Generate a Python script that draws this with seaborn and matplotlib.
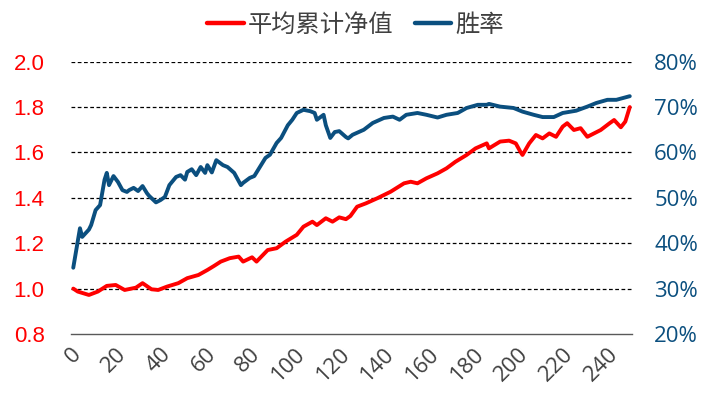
import numpy as np
import pandas as pd
import matplotlib
matplotlib.use("Agg")
import matplotlib.pyplot as plt
import seaborn as sns

# 平均累计净值 (left axis)
nav_x = [1, 3, 8, 12, 16, 20, 24, 29, 32, 36, 39, 43, 48, 52, 57, 61, 64, 67, 71, 75,
         77, 81, 83, 88, 92, 96, 101, 104, 108, 110, 114, 117, 120, 123, 125, 128, 132,
         137, 143, 149, 152, 155, 159, 164, 168, 172, 177, 181, 186, 187, 192, 196, 199,
         201, 202, 205, 208, 211, 214, 217, 220, 222, 225, 228, 231, 234, 237, 241, 243,
         246, 248, 250]
nav_y = [1.000, 0.987, 0.972, 0.987, 1.012, 1.016, 0.994, 1.004, 1.024, 0.997, 0.994,
         1.009, 1.024, 1.046, 1.060, 1.082, 1.100, 1.119, 1.134, 1.141, 1.119, 1.138,
         1.119, 1.170, 1.178, 1.207, 1.237, 1.273, 1.295, 1.280, 1.310, 1.295, 1.314,
         1.306, 1.320, 1.361, 1.376, 1.398, 1.427, 1.464, 1.471, 1.464, 1.486, 1.508,
         1.530, 1.559, 1.589, 1.618, 1.640, 1.618, 1.648, 1.652, 1.640, 1.604, 1.589,
         1.640, 1.677, 1.662, 1.684, 1.669, 1.714, 1.729, 1.699, 1.707, 1.669, 1.684,
         1.699, 1.729, 1.743, 1.711, 1.736, 1.800]

# 胜率 in % (right axis)
win_x = [1, 4, 5, 8, 9, 11, 13, 15, 16, 17, 19, 21, 23, 25, 26, 28, 30, 32, 34, 35, 38,
         40, 42, 44, 47, 49, 51, 52, 54, 56, 58, 60, 61, 63, 65, 68, 70, 73, 76, 77, 80,
         82, 85, 87, 89, 92, 94, 97, 99, 101, 104, 107, 109, 110, 113, 114, 116, 118,
         120, 123, 124, 126, 131, 135, 140, 144, 147, 150, 155, 159, 164, 168, 173, 177,
         182, 186, 187, 192, 198, 202, 207, 211, 216, 220, 226, 231, 235, 240, 244, 247,
         250]
win_y = [34.6, 43.3, 41.4, 43.0, 44.0, 47.3, 48.4, 54.0, 55.5, 52.8, 54.8, 53.5, 51.7,
         51.3, 51.7, 52.2, 51.5, 52.6, 51.0, 50.4, 49.0, 49.5, 50.2, 52.8, 54.6, 55.0,
         54.0, 55.7, 56.3, 55.0, 56.8, 55.5, 57.2, 55.6, 58.3, 57.2, 56.8, 55.5, 52.8,
         53.3, 54.4, 54.8, 57.2, 58.8, 59.5, 62.1, 63.2, 66.0, 67.2, 68.7, 69.4, 69.1,
         68.7, 67.2, 68.3, 66.0, 63.2, 64.5, 64.7, 63.4, 63.1, 63.9, 65.0, 66.5, 67.6,
         67.9, 67.2, 68.3, 68.7, 68.3, 67.7, 68.3, 68.7, 69.8, 70.5, 70.5, 70.7, 70.1,
         69.8, 69.0, 68.3, 67.8, 67.8, 68.7, 69.2, 70.1, 70.9, 71.6, 71.6, 72.0, 72.4]

nav = pd.DataFrame({"x": nav_x, "y": nav_y})
win = pd.DataFrame({"x": win_x, "y": win_y})

red = "#ff0000"
blue = "#0b4f7f"

sns.set_style("white")
plt.rcParams["font.family"] = ["Liberation Sans", "DejaVu Sans"]

fig = plt.figure(figsize=(7.11, 3.96), dpi=100)
ax = fig.add_axes([0.0999, 0.1566, 0.7890, 0.6876])
ax2 = ax.twinx()

sns.lineplot(data=nav, x="x", y="y", ax=ax, color=red, lw=2.8, label="平均累计净值", legend=False)
sns.lineplot(data=win, x="x", y="y", ax=ax2, color=blue, lw=2.8, label="胜率", legend=False)

ax.set_xlim(0, 251)
ax.set_ylim(0.8, 2.0)
ax2.set_ylim(20, 80)
ax.set_xticks(np.arange(0, 241, 20))
ax.set_yticks(np.arange(0.8, 2.01, 0.2))
ax2.set_yticks(np.arange(20, 81, 10))
ax.set_yticklabels([f"{v:.1f}" for v in np.arange(0.8, 2.01, 0.2)])
ax2.set_yticklabels([f"{v}%" for v in range(20, 81, 10)])
ax.set_xlabel("")
ax.set_ylabel("")
ax2.set_ylabel("")

for a in (ax, ax2):
    for s in ["top", "left", "right"]:
        a.spines[s].set_visible(False)
ax2.spines["bottom"].set_visible(False)
ax.spines["bottom"].set_color("#595959")
ax.spines["bottom"].set_linewidth(1.0)

for yv in np.arange(1.0, 2.01, 0.2):
    ax.axhline(yv, color="black", lw=0.9, ls=(0, (3, 2)), zorder=0)

ax.tick_params(axis="y", length=0, pad=19, labelsize=16, labelcolor=red)
ax2.tick_params(axis="y", length=0, pad=16, labelsize=16, labelcolor=blue)
ax.tick_params(axis="x", length=5, width=1.0, color="#595959", pad=2, labelsize=16,
               labelcolor="#404040")
for lab in ax.get_xticklabels():
    lab.set_rotation(45)
    lab.set_ha("right")
    lab.set_rotation_mode("anchor")
    lab.set_family(["Open Sans", "DejaVu Sans"])
for lab in ax2.get_yticklabels():
    lab.set_family(["Open Sans", "DejaVu Sans"])

h1, l1 = ax.get_legend_handles_labels()
h2, l2 = ax2.get_legend_handles_labels()
fig.legend(h1 + h2, l1 + l2, loc="upper center", bbox_to_anchor=(0.5, 1.025), ncol=2,
           frameon=False, handlelength=1.5, columnspacing=0.9, handletextpad=0.15,
           prop={"family": ["Noto Sans CJK SC", "DejaVu Sans"], "size": 17.5})
for t in fig.legends[0].get_texts():
    t.set_color("#404040")
for ln in fig.legends[0].get_lines():
    ln.set_linewidth(3.2)

fig.savefig("out.png", dpi=100)
